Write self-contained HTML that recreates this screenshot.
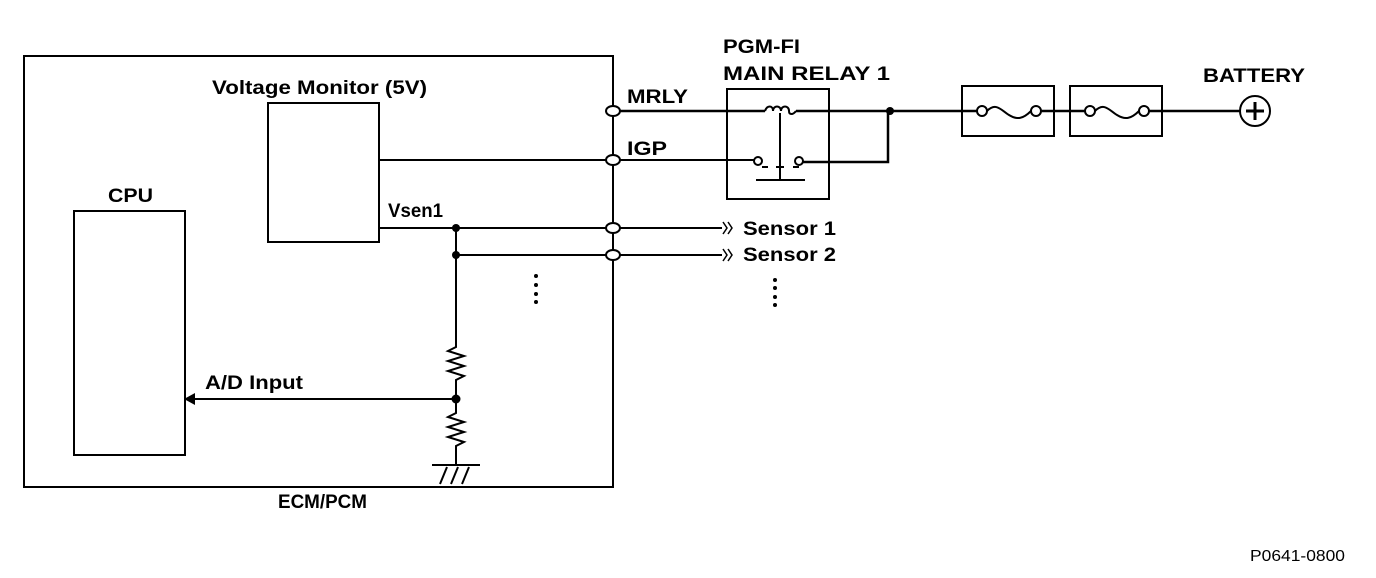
<!DOCTYPE html>
<html><head><style>html,body{margin:0;padding:0;background:#fff}svg{display:block}</style></head><body>
<svg width="1376" height="578" viewBox="0 0 1376 578" xmlns="http://www.w3.org/2000/svg" font-family="Liberation Sans, Arial, sans-serif">
<g fill="none" stroke="#000" stroke-width="2">
<rect x="24" y="56" width="589" height="431"/>
<rect x="268" y="103" width="111" height="139"/>
<rect x="74" y="211" width="111" height="244"/>
<rect x="727" y="89" width="102" height="110"/>
<rect x="962" y="86" width="92" height="50"/>
<rect x="1070" y="86" width="92" height="50"/>
<path d="M620 111H765M796 111H977M1041 111H1085M1149 111H1240" stroke-width="2.5"/>
<path d="M765 111c2-6 8-6 8 0c0-6 8-6 8 0c0-6 8-6 8 0c0 4 4 4 7 0" stroke-width="2"/>
<path d="M780 113V180M756 180H805"/>
<path d="M620 160H754M379 160H606" />
<path d="M803 162H888V111" stroke-width="2.5"/>
<path d="M762 167h6M793 167h6M776 167h8"/>
<circle cx="758" cy="161" r="4"/>
<circle cx="799" cy="161" r="4"/>
<circle cx="982" cy="111" r="5"/>
<circle cx="1036" cy="111" r="5"/>
<circle cx="1090" cy="111" r="5"/>
<circle cx="1144" cy="111" r="5"/>
<path d="M987 111c9-9 14-1 22 4s14 4 22-4"/>
<path d="M1095 111c9-9 14-1 22 4s14 4 22-4"/>
<circle cx="1255" cy="111" r="15"/>
<path d="M1255 102v18M1246 111h18" stroke-width="3"/>
<path d="M379 228H606M620 228H722M456 255H606M620 255H722"/>
<path d="M723 222l4 6-4 6M728 222l4 6-4 6M723 249l4 6-4 6M728 249l4 6-4 6" stroke-width="1.5"/>
<path d="M456 228V347l-8 4 16 5-16 5 16 5-16 5 16 5-8 4V413l-8 4 16 5-16 5 16 5-16 5 16 5-8 4V465"/>
<path d="M432 465H480M440 484l7-17M451 484l7-17M462 484l7-17"/>
<path d="M456 399H195"/>
</g>
<g fill="#000">
<ellipse cx="613" cy="111" rx="7" ry="5" fill="#fff" stroke="#000" stroke-width="2"/>
<ellipse cx="613" cy="160" rx="7" ry="5" fill="#fff" stroke="#000" stroke-width="2"/>
<ellipse cx="613" cy="228" rx="7" ry="5" fill="#fff" stroke="#000" stroke-width="2"/>
<ellipse cx="613" cy="255" rx="7" ry="5" fill="#fff" stroke="#000" stroke-width="2"/>
<circle cx="890" cy="111" r="4"/>
<circle cx="456" cy="228" r="4"/>
<circle cx="456" cy="255" r="4"/>
<circle cx="456" cy="399" r="4.5"/>
<path d="M184 399l11-6v12z"/>
<circle cx="536" cy="276" r="2"/><circle cx="536" cy="285" r="2"/><circle cx="536" cy="294" r="2"/><circle cx="536" cy="302" r="2"/>
<circle cx="775" cy="280" r="2"/><circle cx="775" cy="288" r="2"/><circle cx="775" cy="297" r="2"/><circle cx="775" cy="305" r="2"/>
</g>
<g font-weight="bold" font-size="19" fill="#000" lengthAdjust="spacingAndGlyphs">
<text x="212" y="94" textLength="215" lengthAdjust="spacingAndGlyphs">Voltage Monitor (5V)</text>
<text x="108" y="202" textLength="45" lengthAdjust="spacingAndGlyphs">CPU</text>
<text x="388" y="217" textLength="55" lengthAdjust="spacingAndGlyphs">Vsen1</text>
<text x="205" y="389" textLength="98" lengthAdjust="spacingAndGlyphs">A/D Input</text>
<text x="278" y="508" textLength="89" lengthAdjust="spacingAndGlyphs">ECM/PCM</text>
<text x="627" y="103" textLength="61" lengthAdjust="spacingAndGlyphs">MRLY</text>
<text x="627" y="155" textLength="40" lengthAdjust="spacingAndGlyphs">IGP</text>
<text x="723" y="53" textLength="77" lengthAdjust="spacingAndGlyphs">PGM-FI</text>
<text x="723" y="80" textLength="167" lengthAdjust="spacingAndGlyphs">MAIN RELAY 1</text>
<text x="1203" y="82" textLength="102" lengthAdjust="spacingAndGlyphs">BATTERY</text>
<text x="743" y="235" textLength="93" lengthAdjust="spacingAndGlyphs">Sensor 1</text>
<text x="743" y="261" textLength="93" lengthAdjust="spacingAndGlyphs">Sensor 2</text>
</g>
<text x="1250" y="561" font-size="16" fill="#000" textLength="95" lengthAdjust="spacingAndGlyphs">P0641-0800</text>
</svg>
</body></html>
